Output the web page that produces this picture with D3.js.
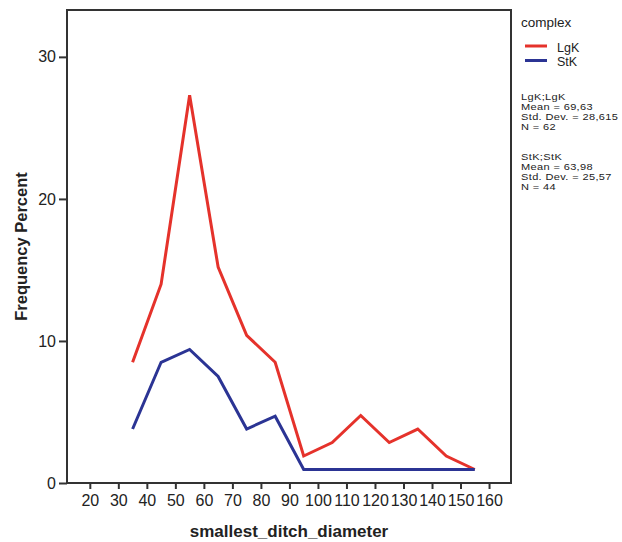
<!DOCTYPE html>
<html>
<head>
<meta charset="utf-8">
<script src="https://cdn.jsdelivr.net/npm/d3@7"></script>
<style>
  html, body { margin: 0; padding: 0; background: #fff; }
  svg { display: block; }
  text { font-family: "Liberation Sans", Arial, sans-serif; fill: #222; }
</style>
</head>
<body>
<script>
const diameters = [35, 45, 55, 65, 75, 85, 95, 105, 115, 125, 135, 145, 155];
const lgkPercent = [8.5, 14.0, 27.3, 15.2, 10.4, 8.5, 1.9, 2.85, 4.75, 2.85, 3.8, 1.9, 0.95];
const stkPercent = [3.8, 8.5, 9.4, 7.5, 3.8, 4.7, 0.95, 0.95, 0.95, 0.95, 0.95, 0.95, 0.95];
const xTicks = [20, 30, 40, 50, 60, 70, 80, 90, 100, 110, 120, 130, 140, 150, 160];
const yTicks = [0, 10, 20, 30];
const seriesNames = ["LgK", "StK"];
const seriesColors = ["#e5322b", "#2b3494"];
const statsLgK = ["LgK;LgK", "Mean = 69,63", "Std. Dev. = 28,615", "N = 62"];
const statsStK = ["StK;StK", "Mean = 63,98", "Std. Dev. = 25,57", "N = 44"];

(function () {
const W = 622, H = 542;
const pL = 67, pR = 511, pT = 10, pB = 483;

const svg = d3.select("body").append("svg").attr("width", W).attr("height", H);

const x = d3.scaleLinear().domain([12, 167.7]).range([pL, pR]);
const y = d3.scaleLinear().domain([0, 33.3]).range([pB, pT]);

// frame
svg.append("rect")
  .attr("x", pL).attr("y", pT)
  .attr("width", pR - pL).attr("height", pB - pT)
  .attr("fill", "#fff").attr("stroke", "#333").attr("stroke-width", 2);

// axes
const xAxis = svg.append("g").attr("transform", `translate(0,${pB})`)
  .call(d3.axisBottom(x).tickValues(xTicks).tickSize(6).tickPadding(6).tickFormat(d3.format("d")));
const yAxis = svg.append("g").attr("transform", `translate(${pL},0)`)
  .call(d3.axisLeft(y).tickValues(yTicks).tickSize(8).tickPadding(3).tickFormat(d3.format("d")));
[xAxis, yAxis].forEach(g => {
  g.select(".domain").remove();
  g.selectAll(".tick line").attr("stroke", "#333").attr("stroke-width", 2);
  g.selectAll(".tick text").attr("font-size", 16).attr("fill", "#333")
    .attr("font-family", "'Liberation Sans', Arial, sans-serif");
});

// lines
const line = d3.line().x((d, i) => x(diameters[i])).y(d => y(d));
[lgkPercent, stkPercent].forEach((s, k) => {
  svg.append("path").datum(s)
    .attr("fill", "none")
    .attr("stroke", seriesColors[k])
    .attr("stroke-width", 3)
    .attr("stroke-linejoin", "miter")
    .attr("d", line);
});

// axis titles
svg.append("text")
  .attr("x", (pL + pR) / 2).attr("y", 537)
  .attr("text-anchor", "middle").attr("font-size", 17).attr("font-weight", "bold")
  .text("smallest_ditch_diameter");
svg.append("text")
  .attr("transform", `translate(27,${(pT + pB) / 2}) rotate(-90)`)
  .attr("text-anchor", "middle").attr("font-size", 16.5).attr("font-weight", "bold")
  .text("Frequency Percent");

// legend
const lx = 521;
svg.append("text").attr("x", lx).attr("y", 27).attr("font-size", 13.5).text("complex");
seriesNames.forEach((n, i) => {
  const yy = 46 + i * 14.5;
  svg.append("line").attr("x1", 525).attr("x2", 547).attr("y1", yy).attr("y2", yy)
    .attr("stroke", seriesColors[i]).attr("stroke-width", 3);
  svg.append("text").attr("x", 557).attr("y", yy + 5.5).attr("font-size", 12.5).text(n);
});

// stats
const statsG = svg.append("g").attr("transform", `translate(${lx},0) scale(1.25,1)`);
[statsLgK, statsStK].forEach((block, b) => {
  block.forEach((t, i) => {
    statsG.append("text").attr("x", 0).attr("y", 100 + b * 60.5 + i * 10)
      .attr("font-size", 8.8).attr("letter-spacing", 0.3).text(t);
  });
});
})();
</script>
</body>
</html>
